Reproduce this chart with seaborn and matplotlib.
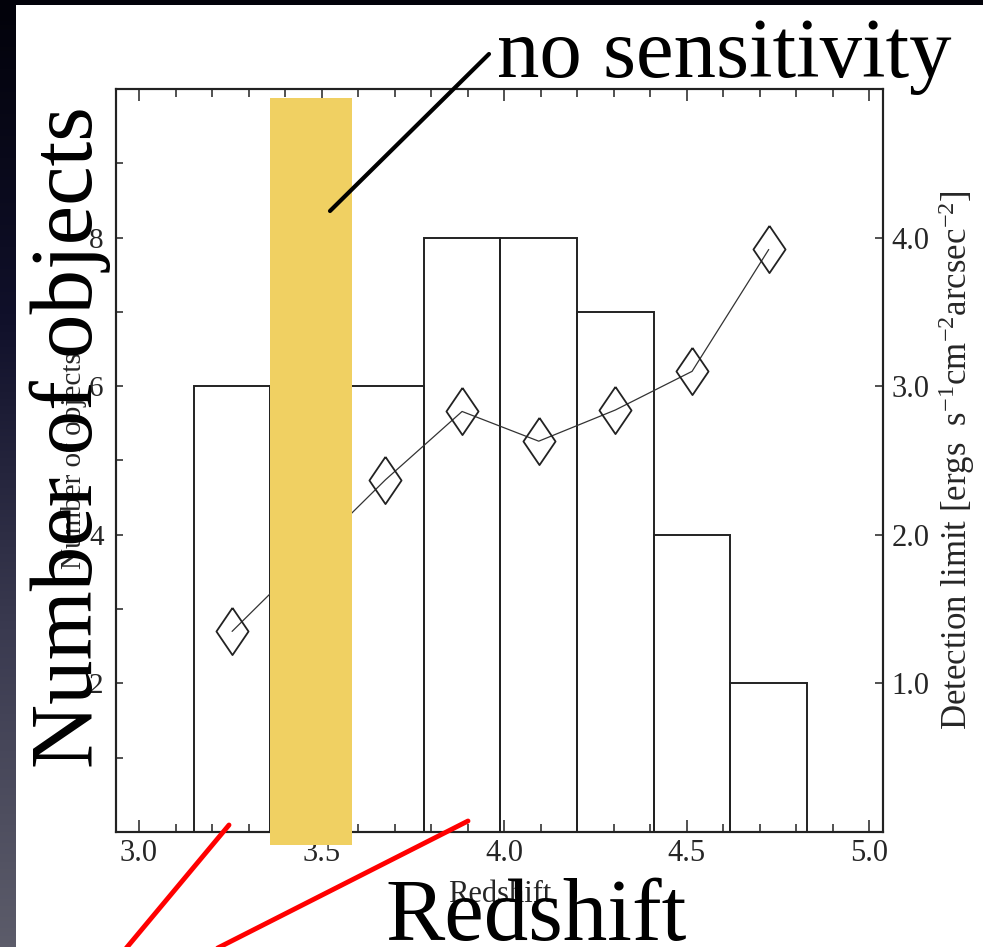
import numpy as np
import matplotlib
matplotlib.use("Agg")
import matplotlib.pyplot as plt
from matplotlib.patches import Rectangle
from matplotlib.lines import Line2D
from matplotlib.colors import LinearSegmentedColormap
from matplotlib.transforms import blended_transform_factory
from matplotlib.ticker import FixedLocator, MultipleLocator
import seaborn as sns

# Number of objects per redshift bin
bin_edges = [3.15, 3.36, 3.57, 3.78, 3.99, 4.20, 4.41, 4.62, 4.83]
bin_counts = [6, 6, 6, 8, 8, 7, 4, 2]

# Detection limit measured in each bin (right axis)
limit_z = [3.255, 3.675, 3.885, 4.095, 4.305, 4.515, 4.725]
limit_val = [1.35, 2.37, 2.83, 2.63, 2.84, 3.10, 3.92]

# Redshift range with no sensitivity
no_sens_lo, no_sens_hi = 3.359, 3.584

x_ticks = [3.0, 3.5, 4.0, 4.5, 5.0]
x_ticklabels = ["3.0", "3.5", "4.0", "4.5", "5.0"]
left_ticks = [2, 4, 6, 8]
left_minor = [1, 3, 5, 7, 9]
right_ticks = [1.0, 2.0, 3.0, 4.0]
right_ticklabels = ["1.0", "2.0", "3.0", "4.0"]

W, H, DPI = 983, 947, 100

sns.set_style("ticks")
plt.rcParams["font.family"] = ["Liberation Serif", "DejaVu Serif"]
plt.rcParams["mathtext.fontset"] = "custom"
plt.rcParams["mathtext.rm"] = "Liberation Serif"
plt.rcParams["mathtext.it"] = "Liberation Serif:italic"
plt.rcParams["axes.edgecolor"] = "#222222"

fig = plt.figure(figsize=(W / DPI, H / DPI), dpi=DPI)


def fx(px):
    return px / W


def fy(py):
    return 1 - py / H


# dark slide backdrop with a white panel on top
bg = fig.add_axes([0, 0, 1, 1], zorder=-10)
grad = np.linspace(0, 1, 256)[:, None]
slide_cmap = LinearSegmentedColormap.from_list(
    "slide", ["#02020a", "#10102a", "#3a3a50", "#5c5c6a"])
bg.imshow(grad, aspect="auto", cmap=slide_cmap, extent=[0, 1, 0, 1], origin="upper")
bg.add_patch(Rectangle((fx(16), 0), 1 - fx(16), fy(5), color="white", lw=0))
bg.set_xlim(0, 1)
bg.set_ylim(0, 1)
bg.axis("off")

# main histogram axes
ax = fig.add_axes([fx(116), fy(832), fx(883) - fx(116), fy(89) - fy(832)])
ax.set_facecolor("white")
centers = [(a + b) / 2 for a, b in zip(bin_edges[:-1], bin_edges[1:])]
sns.histplot(x=centers, weights=bin_counts, bins=bin_edges, fill=False,
             color="#222222", linewidth=1.4, ax=ax)
ax.set_xlim(2.937, 5.038)
ax.set_ylim(0, 10)
ax.xaxis.set_major_locator(FixedLocator(x_ticks))
ax.xaxis.set_minor_locator(MultipleLocator(0.1))
ax.set_xticklabels(x_ticklabels)
ax.yaxis.set_major_locator(FixedLocator(left_ticks))
ax.yaxis.set_minor_locator(FixedLocator(left_minor))
ax.set_yticklabels([str(t) for t in left_ticks])
ax.tick_params(axis="x", which="both", direction="in", top=True, width=1.1,
               color="#222222", labelsize=22, pad=5)
ax.tick_params(axis="x", which="major", length=8.5)
ax.tick_params(axis="x", which="minor", length=5.5)
ax.tick_params(axis="y", which="both", direction="in", right=False, length=5,
               width=1.1, color="#222222", labelsize=21, pad=9)
for s in ax.spines.values():
    s.set_linewidth(1.5)
    s.set_color("#222222")
ax.set_xlabel("Redshift", fontsize=22, labelpad=9)
ax.set_ylabel("Number of objects", fontsize=21, labelpad=1)

# detection limit on a twin axis
ax2 = ax.twinx()
diamond = [(0, 1), (0.68, 0), (0, -1), (-0.68, 0), (0, 1)]
sns.lineplot(x=limit_z, y=limit_val, ax=ax2, color="#333333", linewidth=0.9,
             marker=diamond, markersize=34, markerfacecolor="none",
             markeredgecolor="#222222", markeredgewidth=1.3)
ax2.set_ylim(0, 5)
ax2.set_xlim(2.937, 5.038)
ax2.yaxis.set_major_locator(FixedLocator(right_ticks))
ax2.set_yticklabels(right_ticklabels)
ax2.tick_params(axis="y", which="both", direction="in", length=5.5, width=1.1,
                color="#222222", labelsize=22, pad=6)
for s in ax2.spines.values():
    s.set_linewidth(1.5)
    s.set_color("#222222")
ax2.set_ylabel(r"Detection limit [ergs  s$^{-1}$cm$^{-2}$arcsec$^{-2}$]",
               fontsize=25, labelpad=5)

# shaded band over the redshift range without sensitivity
band_tr = blended_transform_factory(ax.transData, fig.transFigure)
fig.add_artist(Rectangle((no_sens_lo, fy(845)), no_sens_hi - no_sens_lo,
                         fy(98) - fy(845), transform=band_tr,
                         facecolor="#F0D062", edgecolor="none", zorder=5))

# pointer to the band
fig.add_artist(Line2D([fx(330), fx(489)], [fy(211), fy(54)], transform=fig.transFigure,
                      color="black", lw=3, zorder=6))
# red guide lines below the axis
fig.add_artist(Line2D([fx(229), fx(118)], [fy(825), fy(958)], transform=fig.transFigure,
                      color="#FF0000", lw=3.5, zorder=6))
fig.add_artist(Line2D([fx(468), fx(200)], [fy(821), fy(957)], transform=fig.transFigure,
                      color="#FF0000", lw=3.5, zorder=6))

# slide captions
fig.text(fx(497), fy(77), "no sensitivity", fontsize=61, ha="left", va="baseline",
         color="black", zorder=10)
fig.text(fx(92), fy(437), "Number of objects", fontsize=64, rotation=90,
         rotation_mode="anchor", ha="center", va="baseline", color="black", zorder=10)
fig.text(fx(385), fy(940), "Redshift", fontsize=64, ha="left", va="baseline",
         color="black", zorder=10)

fig.savefig("out.png", dpi=DPI)
